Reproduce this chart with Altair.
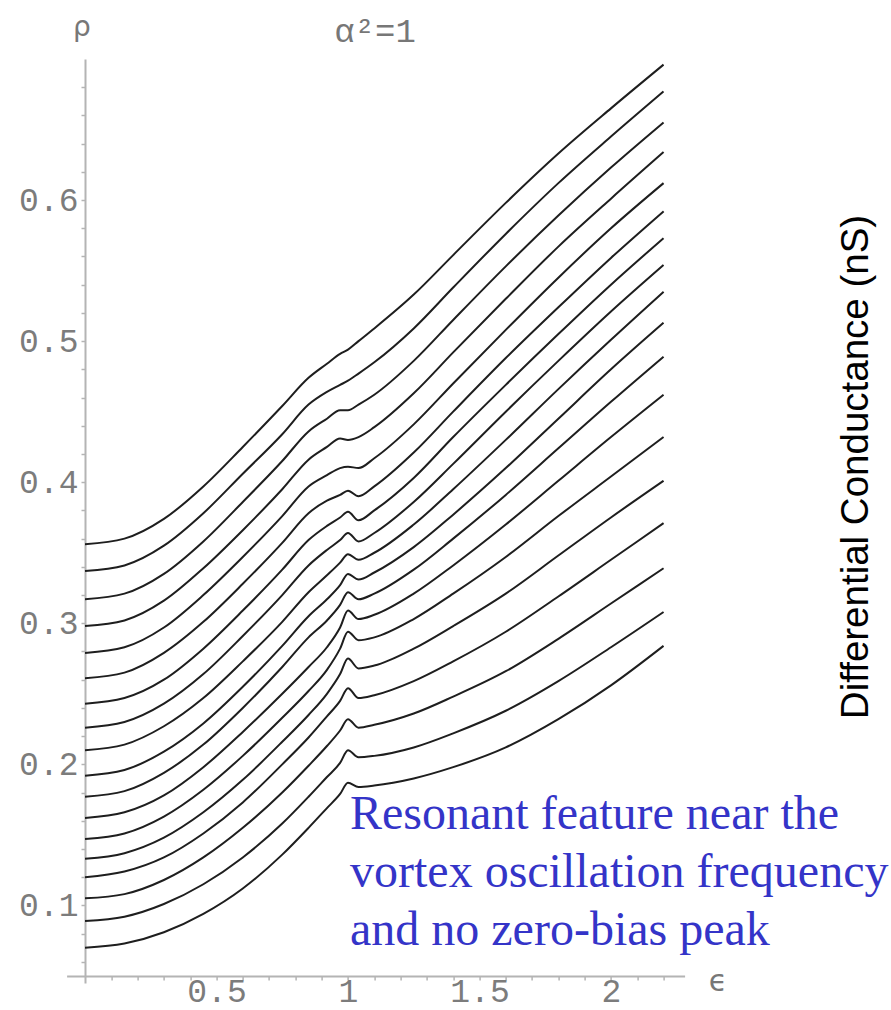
import altair as alt
import pandas as pd

eps = [0, 0.15, 0.3, 0.45, 0.6, 0.75, 0.85, 0.92, 0.97, 1.0, 1.04, 1.1, 1.25, 1.4, 1.6, 1.8, 2.0, 2.2]

# curves from bottom (00) to top (17)
c00 = [0.070, 0.073, 0.081, 0.094, 0.112, 0.136, 0.155, 0.169, 0.179, 0.187, 0.184, 0.185, 0.190, 0.198, 0.212, 0.232, 0.256, 0.284]
c01 = [0.089, 0.092, 0.101, 0.115, 0.134, 0.158, 0.177, 0.191, 0.201, 0.210, 0.205, 0.206, 0.212, 0.222, 0.238, 0.259, 0.283, 0.308]
c02 = [0.105, 0.108, 0.118, 0.134, 0.155, 0.180, 0.199, 0.213, 0.224, 0.232, 0.226, 0.228, 0.236, 0.248, 0.266, 0.289, 0.314, 0.339]
c03 = [0.120, 0.124, 0.134, 0.151, 0.173, 0.200, 0.219, 0.234, 0.245, 0.254, 0.247, 0.249, 0.259, 0.273, 0.294, 0.319, 0.345, 0.371]
c04 = [0.133, 0.137, 0.148, 0.166, 0.189, 0.216, 0.235, 0.250, 0.264, 0.275, 0.268, 0.270, 0.282, 0.298, 0.321, 0.348, 0.375, 0.401]
c05 = [0.147, 0.151, 0.163, 0.182, 0.206, 0.233, 0.252, 0.267, 0.282, 0.294, 0.288, 0.290, 0.303, 0.321, 0.347, 0.376, 0.404, 0.432]
c06 = [0.162, 0.166, 0.178, 0.198, 0.223, 0.250, 0.269, 0.283, 0.297, 0.309, 0.303, 0.306, 0.321, 0.341, 0.370, 0.401, 0.432, 0.462]
c07 = [0.177, 0.181, 0.194, 0.214, 0.240, 0.269, 0.290, 0.302, 0.313, 0.322, 0.317, 0.321, 0.338, 0.360, 0.391, 0.424, 0.457, 0.489]
c08 = [0.192, 0.196, 0.209, 0.229, 0.255, 0.284, 0.305, 0.317, 0.327, 0.335, 0.331, 0.336, 0.354, 0.377, 0.410, 0.445, 0.480, 0.513]
c09 = [0.210, 0.214, 0.227, 0.247, 0.273, 0.301, 0.322, 0.334, 0.343, 0.349, 0.345, 0.350, 0.370, 0.395, 0.430, 0.466, 0.501, 0.535]
c10 = [0.226, 0.230, 0.243, 0.264, 0.291, 0.320, 0.341, 0.352, 0.359, 0.364, 0.358, 0.364, 0.386, 0.413, 0.450, 0.486, 0.521, 0.554]
c11 = [0.243, 0.247, 0.260, 0.282, 0.309, 0.338, 0.359, 0.369, 0.375, 0.379, 0.373, 0.380, 0.403, 0.432, 0.469, 0.505, 0.540, 0.573]
c12 = [0.261, 0.265, 0.279, 0.301, 0.328, 0.357, 0.378, 0.387, 0.391, 0.394, 0.390, 0.397, 0.421, 0.450, 0.488, 0.524, 0.559, 0.592]
c13 = [0.279, 0.283, 0.297, 0.320, 0.347, 0.376, 0.397, 0.405, 0.410, 0.411, 0.410, 0.417, 0.441, 0.470, 0.508, 0.545, 0.580, 0.612]
c14 = [0.298, 0.302, 0.316, 0.339, 0.366, 0.395, 0.416, 0.425, 0.431, 0.430, 0.432, 0.439, 0.463, 0.492, 0.530, 0.567, 0.601, 0.634]
c15 = [0.317, 0.321, 0.335, 0.358, 0.386, 0.415, 0.436, 0.445, 0.451, 0.451, 0.455, 0.462, 0.486, 0.515, 0.553, 0.589, 0.623, 0.655]
c16 = [0.337, 0.341, 0.355, 0.378, 0.406, 0.434, 0.455, 0.464, 0.469, 0.472, 0.477, 0.485, 0.509, 0.538, 0.576, 0.612, 0.645, 0.677]
c17 = [0.356, 0.360, 0.374, 0.397, 0.425, 0.454, 0.474, 0.484, 0.491, 0.494, 0.500, 0.509, 0.533, 0.561, 0.598, 0.633, 0.665, 0.696]
curves = [c00, c01, c02, c03, c04, c05, c06, c07, c08, c09, c10, c11, c12, c13, c14, c15, c16, c17]

x_ticks = [0.1, 0.2, 0.3, 0.4, 0.5, 0.6, 0.7, 0.8, 0.9, 1.0, 1.1, 1.2, 1.3, 1.4, 1.5, 1.6, 1.7, 1.8, 1.9, 2.0, 2.1, 2.2]
x_labels = [0.5, 1.0, 1.5, 2.0]
y_ticks = [0.06, 0.08, 0.1, 0.12, 0.14, 0.16, 0.18, 0.2, 0.22, 0.24, 0.26, 0.28, 0.3, 0.32, 0.34, 0.36,
           0.38, 0.4, 0.42, 0.44, 0.46, 0.48, 0.5, 0.52, 0.54, 0.56, 0.58, 0.6, 0.62, 0.64, 0.66, 0.68]
y_labels = [0.1, 0.2, 0.3, 0.4, 0.5, 0.6]

title_text = "α²=1"
x_name = "ϵ"
y_name = "ρ"
side_text = "Differential Conductance (nS)"
note_text = "Resonant feature near the\nvortex oscillation frequency\nand no zero-bias peak"

rows = []
for i, c in enumerate(curves):
    for e, r in zip(eps, c):
        rows.append({"curve": i, "eps": e, "rho": r})
df = pd.DataFrame(rows)

W, H = 618, 924
PAD_L, PAD_T = 66.6, 59

x_label_expr = ("indexof(" + str(x_labels) + ", datum.value) >= 0 ? "
                "(datum.value == 1 ? '1' : datum.value == 2 ? '2' : format(datum.value, '.1f')) : ''")
y_label_expr = "indexof(" + str(y_labels) + ", datum.value) >= 0 ? format(datum.value, '.1f') : ''"

axis_common = dict(
    grid=False, domainColor="#b4b4b4", domainWidth=2, tickColor="#b4b4b4", tickWidth=1.5,
    tickSize=4, labelColor="#7c7c7c", labelFont="Liberation Mono", labelFontSize=33,
    labelOverlap=False, labelFlush=False, title=None,
)

lines = alt.Chart(df).mark_line(color="#1e1e1e", strokeWidth=2, interpolate="monotone").encode(
    x=alt.X("eps:Q", scale=alt.Scale(domain=[-0.07, 2.28], nice=False, zero=False),
            axis=alt.Axis(values=x_ticks, labelExpr=x_label_expr, offset=-7, labelPadding=-5, **axis_common)),
    y=alt.Y("rho:Q", scale=alt.Scale(domain=[0.045, 0.70], nice=False, zero=False),
            axis=alt.Axis(values=y_ticks, labelExpr=y_label_expr, offset=-18.4, labelPadding=3, **axis_common)),
    detail="curve:N",
)

def label(text, x, y, **kw):
    return alt.Chart(pd.DataFrame({"t": [text]})).mark_text(**kw).encode(
        x=alt.value(x), y=alt.value(y), text="t:N")

title = label(title_text, 375 - PAD_L, 42 - PAD_T, font="Liberation Mono", fontSize=34,
              color="#777777", align="center", baseline="alphabetic")
rho_lbl = label(y_name, 82 - PAD_L, 28 - PAD_T, font="DejaVu Sans", fontSize=28,
                color="#777777", align="center", baseline="middle")
eps_lbl = label(x_name, 718 - PAD_L, 982 - PAD_T, font="DejaVu Sans", fontSize=30,
                color="#777777", align="center", baseline="middle")
side = label(side_text, 856 - PAD_L, 467 - PAD_T, font="Liberation Sans", fontSize=38.5,
             color="#000000", align="center", baseline="middle", angle=270)
note = label(note_text, 350 - PAD_L, 829 - PAD_T, font="Liberation Serif", fontSize=48,
             color="#3434c8", align="left", baseline="alphabetic", lineBreak="\n", lineHeight=58)

chart = alt.layer(lines, title, rho_lbl, eps_lbl, side, note).properties(
    width=W, height=H,
    autosize=alt.AutoSizeParams(type="none"),
    padding={"left": PAD_L, "top": PAD_T, "right": 891 - PAD_L - W, "bottom": 1010 - PAD_T - H},
    background="white",
).configure_view(strokeWidth=0)

chart.save("out.html", embed_options={"renderer": "svg", "actions": False})
